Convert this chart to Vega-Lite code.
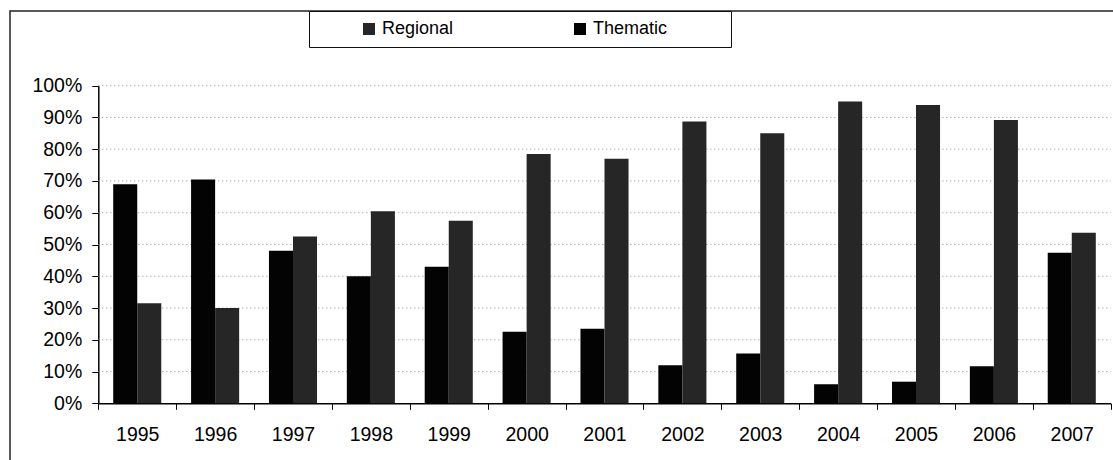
{
  "$schema": "https://vega.github.io/schema/vega-lite/v6.json",
  "width": 1120,
  "height": 460,
  "autosize": {"type": "none"},
  "padding": {"left": 10, "top": 11, "right": 0, "bottom": 0},
  "background": "white",
  "config": {
    "view": {"stroke": "#222222", "strokeWidth": 1.5},
    "font": "Liberation Sans"
  },
  "datasets": {
    "shares": [
      {"year": "1995", "series": "Thematic", "value": 0.69},
      {"year": "1995", "series": "Regional", "value": 0.315},
      {"year": "1996", "series": "Thematic", "value": 0.705},
      {"year": "1996", "series": "Regional", "value": 0.30},
      {"year": "1997", "series": "Thematic", "value": 0.48},
      {"year": "1997", "series": "Regional", "value": 0.525},
      {"year": "1998", "series": "Thematic", "value": 0.40},
      {"year": "1998", "series": "Regional", "value": 0.605},
      {"year": "1999", "series": "Thematic", "value": 0.43},
      {"year": "1999", "series": "Regional", "value": 0.575},
      {"year": "2000", "series": "Thematic", "value": 0.225},
      {"year": "2000", "series": "Regional", "value": 0.785},
      {"year": "2001", "series": "Thematic", "value": 0.235},
      {"year": "2001", "series": "Regional", "value": 0.77},
      {"year": "2002", "series": "Thematic", "value": 0.12},
      {"year": "2002", "series": "Regional", "value": 0.887},
      {"year": "2003", "series": "Thematic", "value": 0.157},
      {"year": "2003", "series": "Regional", "value": 0.85},
      {"year": "2004", "series": "Thematic", "value": 0.06},
      {"year": "2004", "series": "Regional", "value": 0.95},
      {"year": "2005", "series": "Thematic", "value": 0.068},
      {"year": "2005", "series": "Regional", "value": 0.939},
      {"year": "2006", "series": "Thematic", "value": 0.117},
      {"year": "2006", "series": "Regional", "value": 0.892},
      {"year": "2007", "series": "Thematic", "value": 0.474},
      {"year": "2007", "series": "Regional", "value": 0.537}
    ],
    "grid": [
      {"v": 0.1}, {"v": 0.2}, {"v": 0.3}, {"v": 0.4}, {"v": 0.5},
      {"v": 0.6}, {"v": 0.7}, {"v": 0.8}, {"v": 0.9}, {"v": 1.0}
    ]
  },
  "layer": [
    {
      "data": {"name": "grid"},
      "mark": {"type": "rule", "color": "#8a8a8a", "strokeDash": [1, 3], "strokeWidth": 1},
      "encoding": {
        "y": {
          "field": "v",
          "type": "quantitative",
          "scale": {"domain": [0, 1], "range": [392.3, 74.7]},
          "axis": {
            "offset": -88.3,
            "values": [0, 0.1, 0.2, 0.3, 0.4, 0.5, 0.6, 0.7, 0.8, 0.9, 1],
            "format": ".0%",
            "tickSize": 6.5,
            "tickColor": "black",
            "domainColor": "black",
            "domainWidth": 1.5,
            "labelFontSize": 19.5,
            "labelPadding": 10,
            "labelColor": "black",
            "labelFont": "Liberation Sans",
            "title": null,
            "grid": false
          }
        },
        "x": {"datum": 0, "type": "quantitative", "scale": {"domain": [0, 1], "range": [88.3, 1100.7]}, "axis": null},
        "x2": {"datum": 1}
      }
    },
    {
      "data": {"name": "shares"},
      "mark": {"type": "bar"},
      "encoding": {
        "x": {
          "field": "year",
          "type": "nominal",
          "scale": {"range": [88.3, 1100.7], "paddingInner": 0, "paddingOuter": 0},
          "axis": {
            "orient": "bottom",
            "offset": -67.7,
            "tickBand": "extent",
            "tickSize": 6,
            "tickColor": "black",
            "domainColor": "black",
            "domainWidth": 1.5,
            "labelFontSize": 19.5,
            "labelPadding": 16,
            "labelAngle": 0,
            "labelColor": "black",
            "labelFont": "Liberation Sans",
            "title": null,
            "grid": false
          }
        },
        "xOffset": {
          "field": "series",
          "sort": ["Thematic", "Regional"],
          "scale": {"paddingInner": 0, "paddingOuter": 0.62}
        },
        "y": {
          "field": "value",
          "type": "quantitative",
          "scale": {"domain": [0, 1], "range": [392.3, 74.7]},
          "axis": {
            "offset": -88.3,
            "values": [0, 0.1, 0.2, 0.3, 0.4, 0.5, 0.6, 0.7, 0.8, 0.9, 1],
            "format": ".0%",
            "tickSize": 6.5,
            "tickColor": "black",
            "domainColor": "black",
            "domainWidth": 1.5,
            "labelFontSize": 19.5,
            "labelPadding": 10,
            "labelColor": "black",
            "labelFont": "Liberation Sans",
            "title": null,
            "grid": false
          }
        },
        "color": {
          "field": "series",
          "type": "nominal",
          "scale": {"domain": ["Regional", "Thematic"], "range": ["#262626", "#030303"]},
          "legend": {
            "orient": "none",
            "legendX": 299,
            "legendY": 0,
            "direction": "horizontal",
            "title": "\u00a0",
            "titleOrient": "right",
            "titlePadding": 55,
            "titleFontSize": 18,
            "padding": 9,
            "fillColor": "white",
            "strokeColor": "#111111",
            "symbolType": "square",
            "symbolSize": 144,
            "symbolStrokeWidth": 0,
            "symbolOffset": 42,
            "labelOffset": 4,
            "columnPadding": 75,
            "labelFontSize": 18,
            "labelFont": "Liberation Sans",
            "labelColor": "black"
          }
        }
      }
    }
  ],
  "resolve": {"scale": {"x": "independent"}}
}
